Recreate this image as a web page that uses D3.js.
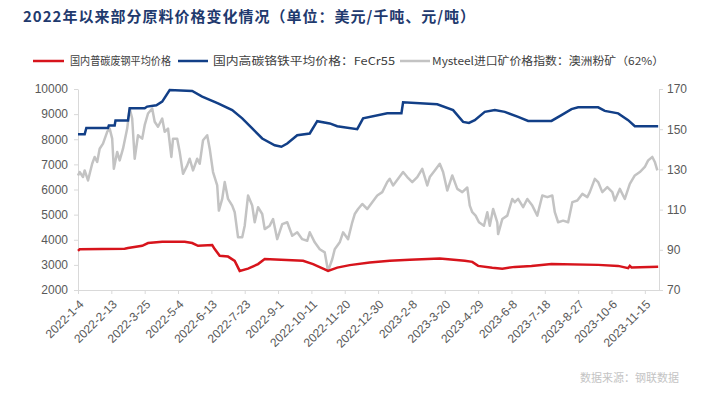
<!DOCTYPE html>
<html>
<head>
<meta charset="utf-8">
<script src="https://cdn.jsdelivr.net/npm/d3@7/dist/d3.min.js"></script>
<style>
  body { margin: 0; background: #fff; }
  svg text { font-family: "Liberation Sans", Arial, "Noto Sans CJK SC", sans-serif; }
  .cjk { font-family: "Noto Sans CJK SC", sans-serif; }
  .axis path, .axis line { stroke: #d9d9d9; }
  .axis text { fill: #595959; font-size: 12px; }
</style>
</head>
<body>
<script>
// chart values
var seriesNames = ["国内普碳废钢平均价格", "国内高碳铬铁平均价格：FeCr55", "Mysteel进口矿价格指数：澳洲粉矿（62%）"];
var tickLabels = ["2022-1-4","2022-2-13","2022-3-25","2022-5-4","2022-6-13","2022-7-23","2022-9-1",
  "2022-10-11","2022-11-20","2022-12-30","2023-2-8","2023-3-20","2023-4-29","2023-6-8",
  "2023-7-18","2023-8-27","2023-10-6","2023-11-15"];
var leftTicks = [2000,3000,4000,5000,6000,7000,8000,9000,10000];
var rightTicks = [70,90,110,130,150,170];

// 国内普碳废钢 (left axis)
var scrap = [
  ["2022-01-04",3560],["2022-01-06",3620],["2022-03-01",3640],["2022-03-05",3670],["2022-03-22",3760],
  ["2022-03-29",3870],["2022-04-15",3920],["2022-05-12",3920],["2022-05-21",3870],["2022-05-28",3760],
  ["2022-06-14",3790],["2022-06-17",3630],["2022-06-23",3360],["2022-07-03",3330],["2022-07-11",3160],
  ["2022-07-17",2760],["2022-07-27",2850],["2022-08-08",3030],["2022-08-16",3230],["2022-10-01",3160],
  ["2022-10-13",3030],["2022-10-25",2850],["2022-10-31",2760],["2022-11-11",2890],["2022-11-26",2990],
  ["2022-12-20",3090],["2023-01-13",3160],["2023-02-06",3200],["2023-03-14",3250],["2023-04-13",3160],
  ["2023-04-22",3120],["2023-04-29",2960],["2023-05-16",2890],["2023-05-28",2850],["2023-06-12",2920],
  ["2023-07-02",2960],["2023-07-26",3030],["2023-09-20",3000],["2023-10-14",2960],["2023-10-26",2870],
  ["2023-10-28",2960],["2023-10-30",2900],["2023-12-01",2930]
];

// 国内高碳铬铁 FeCr55 (left axis)
var ferro = [
  ["2022-01-04",8200],["2022-01-12",8200],["2022-01-14",8450],["2022-02-09",8450],["2022-02-10",8550],
  ["2022-02-17",8550],["2022-02-18",8750],["2022-03-05",8750],["2022-03-07",9230],["2022-03-25",9230],
  ["2022-03-28",9300],["2022-04-08",9350],["2022-04-15",9500],["2022-04-24",9960],["2022-05-21",9920],
  ["2022-06-02",9700],["2022-06-21",9430],["2022-07-08",9160],["2022-07-20",8830],["2022-08-01",8430],
  ["2022-08-13",8030],["2022-08-28",7760],["2022-09-05",7700],["2022-09-12",7830],["2022-09-24",8160],
  ["2022-10-09",8230],["2022-10-18",8720],["2022-11-02",8630],["2022-11-11",8520],["2022-12-05",8400],
  ["2022-12-12",8830],["2023-01-10",9030],["2023-01-27",9030],["2023-01-29",9470],["2023-03-11",9390],
  ["2023-03-30",9160],["2023-04-11",8690],["2023-04-18",8650],["2023-04-25",8760],["2023-05-07",9090],
  ["2023-05-19",9160],["2023-05-31",9090],["2023-06-16",8890],["2023-06-28",8730],["2023-07-26",8730],
  ["2023-08-07",8960],["2023-08-19",9200],["2023-08-27",9270],["2023-09-20",9270],["2023-09-28",9130],
  ["2023-10-14",9030],["2023-10-26",8760],["2023-11-03",8520],["2023-12-01",8520]
];

// Mysteel 澳洲粉矿 62% (right axis)
var ore = [
  ["2022-01-04",127],["2022-01-06",128.7],["2022-01-10",126.2],["2022-01-12",129.5],["2022-01-16",124.5],
  ["2022-01-21",132.8],["2022-01-24",136.2],["2022-01-27",133.7],["2022-01-30",140.3],["2022-02-03",142.8],
  ["2022-02-08",148.7],["2022-02-11",150.3],["2022-02-14",145.3],["2022-02-16",130.3],["2022-02-20",138.7],
  ["2022-02-23",134.5],["2022-02-27",140.3],["2022-03-04",150.3],["2022-03-07",160.3],["2022-03-10",155.3],
  ["2022-03-13",135.3],["2022-03-17",147],["2022-03-22",145.3],["2022-03-25",152],["2022-03-29",157.8],
  ["2022-04-03",160.3],["2022-04-06",153.7],["2022-04-10",151.2],["2022-04-15",155.3],["2022-04-18",148.7],
  ["2022-04-22",150.3],["2022-04-26",136.2],["2022-04-28",145.3],["2022-05-03",145.3],["2022-05-06",138.7],
  ["2022-05-10",127.8],["2022-05-15",132],["2022-05-18",135.3],["2022-05-22",129.5],["2022-05-27",135.3],
  ["2022-05-30",132.8],["2022-06-03",144.5],["2022-06-08",147],["2022-06-11",140.3],["2022-06-15",128.7],
  ["2022-06-20",122],["2022-06-22",109.5],["2022-06-26",115.3],["2022-06-29",123.7],["2022-07-03",115.3],
  ["2022-07-08",112],["2022-07-11",108.7],["2022-07-15",96.2],["2022-07-20",96.2],["2022-07-23",102],
  ["2022-07-27",117],["2022-08-01",112],["2022-08-04",103.7],["2022-08-08",111.2],["2022-08-13",107.8],
  ["2022-08-16",100.3],["2022-08-22",102],["2022-08-26",105.3],["2022-08-31",95.3],["2022-09-06",102.8],
  ["2022-09-12",103.7],["2022-09-18",97],["2022-09-24",98.7],["2022-09-30",95.3],["2022-10-06",94.5],
  ["2022-10-09",98.7],["2022-10-15",93.7],["2022-10-21",90.3],["2022-10-27",88.7],["2022-10-31",79.5],
  ["2022-11-05",85.3],["2022-11-08",90.3],["2022-11-14",93.7],["2022-11-18",98.7],["2022-11-24",95.3],
  ["2022-11-29",103.7],["2022-12-02",107.8],["2022-12-06",110.3],["2022-12-11",112.8],["2022-12-17",110.3],
  ["2022-12-23",113.7],["2022-12-29",117],["2023-01-04",118.7],["2023-01-10",123.7],["2023-01-13",125.3],
  ["2023-01-17",122],["2023-01-23",125.3],["2023-01-29",128.7],["2023-02-03",126.2],["2023-02-09",123.7],
  ["2023-02-15",126.2],["2023-02-21",130.3],["2023-02-27",122],["2023-03-02",126.2],["2023-03-08",129.5],
  ["2023-03-14",132.8],["2023-03-18",128.7],["2023-03-23",119.5],["2023-03-29",127],["2023-04-04",120.3],
  ["2023-04-10",118.7],["2023-04-16",121],["2023-04-19",112],["2023-04-22",108.7],["2023-04-26",107],
  ["2023-04-30",103.7],["2023-05-06",102],["2023-05-10",108.7],["2023-05-13",102],["2023-05-17",110.3],
  ["2023-05-22",103.7],["2023-05-23",97.8],["2023-05-28",105.3],["2023-06-03",107],["2023-06-09",115.3],
  ["2023-06-12",113.7],["2023-06-16",115.3],["2023-06-22",111.2],["2023-06-27",115.3],["2023-07-03",112],
  ["2023-07-09",107],["2023-07-15",117],["2023-07-21",116.2],["2023-07-27",117],["2023-07-30",108.7],
  ["2023-08-03",103.7],["2023-08-09",104.5],["2023-08-15",103.7],["2023-08-20",113.7],["2023-08-26",114.5],
  ["2023-09-01",117.8],["2023-09-07",116.2],["2023-09-10",118.7],["2023-09-16",125.3],["2023-09-20",123.7],
  ["2023-09-25",118.7],["2023-10-01",121.2],["2023-10-07",118.7],["2023-10-10",114.5],["2023-10-16",120.3],
  ["2023-10-22",115.3],["2023-10-28",122.8],["2023-11-03",127],["2023-11-09",128.7],["2023-11-15",131.2],
  ["2023-11-19",134.5],["2023-11-24",136.2],["2023-11-27",133.7],["2023-11-30",129.5]
];

var colors = ["#d7141c", "#123f87", "#c3c3c3"];

var W = 707, H = 393;
var margin = {top: 89, right: 48, bottom: 103, left: 78};
var parse = d3.timeParse("%Y-%m-%d");
var parseTick = d3.timeParse("%Y-%-m-%-d");

var svg = d3.select("body").append("svg")
    .attr("width", W)
    .attr("height", H);

//Title
svg.append("text")
    .attr("class", "cjk")
    .attr("x", 23)
    .attr("y", 22)
    .attr("textLength", 452)
    .attr("lengthAdjust", "spacing")
    .style("font-size", "15px")
    .style("font-weight", "bold")
    .style("fill", "#1f3a6e")
    .text("2022年以来部分原料价格变化情况（单位：美元/千吨、元/吨）");

//Scales
var x = d3.scaleTime()
    .domain([parse("2022-01-04"), parse("2023-12-02")])
    .range([margin.left, W - margin.right]);
var yL = d3.scaleLinear().domain([2000, 10000]).range([H - margin.bottom, margin.top]);
var yR = d3.scaleLinear().domain([70, 170]).range([H - margin.bottom, margin.top]);

//Axes
svg.append("g")
    .attr("class", "axis")
    .attr("transform", "translate(" + margin.left + ",0)")
    .call(d3.axisLeft(yL).tickValues(leftTicks).tickFormat(d3.format("d"))
      .tickSize(4).tickPadding(6).tickSizeOuter(0));

svg.append("g")
    .attr("class", "axis")
    .attr("transform", "translate(" + (W - margin.right) + ",0)")
    .call(d3.axisRight(yR).tickValues(rightTicks).tickFormat(d3.format("d"))
      .tickSize(4).tickPadding(4).tickSizeOuter(0));

var xAxis = svg.append("g")
    .attr("class", "axis")
    .attr("transform", "translate(0," + (H - margin.bottom) + ")")
    .call(d3.axisBottom(x)
      .tickValues(tickLabels.map(function(d) { return parseTick(d); }))
      .tickFormat(function(d, i) { return tickLabels[i]; })
      .tickSize(4).tickSizeOuter(0));

xAxis.selectAll("text")
    .attr("text-anchor", "end")
    .attr("dy", "0.35em")
    .attr("y", 0)
    .attr("transform", "translate(3,12) rotate(-45)");

xAxis.selectAll(".domain").attr("stroke", "#d9d9d9");

//Lines
var lineL = d3.line()
    .x(function(d) { return x(parse(d[0])); })
    .y(function(d) { return yL(d[1]); });
var lineR = d3.line()
    .x(function(d) { return x(parse(d[0])); })
    .y(function(d) { return yR(d[1]); });

svg.append("path")
    .datum(ore)
    .attr("fill", "none")
    .attr("stroke", colors[2])
    .attr("stroke-width", 2.5)
    .attr("stroke-linejoin", "round")
    .attr("d", lineR);

svg.append("path")
    .datum(ferro)
    .attr("fill", "none")
    .attr("stroke", colors[1])
    .attr("stroke-width", 2.5)
    .attr("d", lineL);

svg.append("path")
    .datum(scrap)
    .attr("fill", "none")
    .attr("stroke", colors[0])
    .attr("stroke-width", 2.5)
    .attr("d", lineL);

//Legend
var legend = [
  {x1: 33, x2: 64, tx: 70, tl: 101},
  {x1: 178, x2: 208, tx: 213, tl: 182},
  {x1: 400, x2: 430, tx: 432, tl: 232}
];
var lg = svg.append("g");
lg.selectAll("line")
    .data(legend)
    .enter().append("line")
      .attr("x1", function(d) { return d.x1; })
      .attr("x2", function(d) { return d.x2; })
      .attr("y1", 61).attr("y2", 61)
      .attr("stroke", function(d, i) { return colors[i]; })
      .attr("stroke-width", 2.5);
lg.selectAll("text")
    .data(legend)
    .enter().append("text")
      .attr("class", "cjk")
      .attr("x", function(d) { return d.tx; })
      .attr("y", 65)
      .attr("textLength", function(d) { return d.tl; })
      .attr("lengthAdjust", "spacingAndGlyphs")
      .style("font-size", "11px")
      .style("fill", "#404040")
      .text(function(d, i) { return seriesNames[i]; });

//Source
svg.append("text")
    .attr("class", "cjk")
    .attr("x", 580)
    .attr("y", 382)
    .style("font-size", "11px")
    .style("fill", "#c4c4c4")
    .text("数据来源：钢联数据");
</script>
</body>
</html>
